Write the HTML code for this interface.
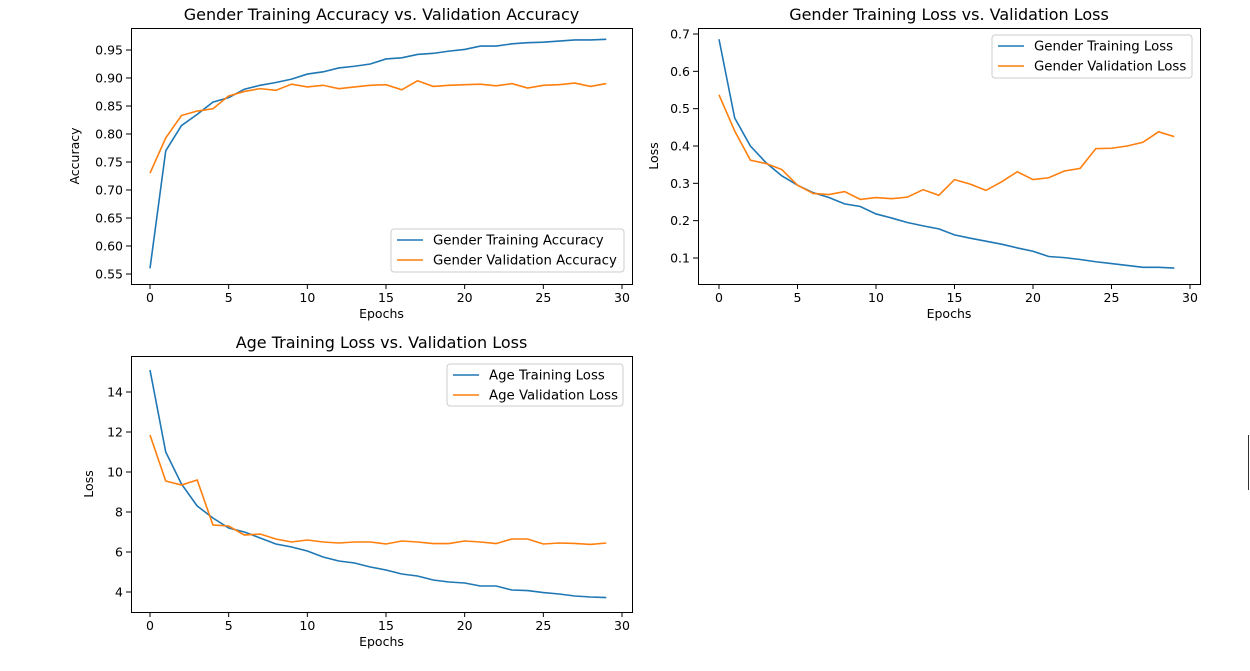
<!DOCTYPE html>
<html><head><meta charset="utf-8"><style>
body{margin:0;background:#fff;width:1250px;height:667px;overflow:hidden;font-family:"DejaVu Sans","Liberation Sans",sans-serif;}
svg text{font-family:"DejaVu Sans","Liberation Sans",sans-serif;fill:#000}
</style></head><body>
<svg id="fig" width="1250" height="667" xmlns="http://www.w3.org/2000/svg">
<rect width="1250" height="667" fill="#fff"/>
<line x1="1248.5" y1="435" x2="1248.5" y2="490" stroke="#333" stroke-width="1"/>
</svg>
<script>
const epochs = Array.from({length:30},(_,i)=>i);
const genderTrainAcc=[0.56,0.77,0.815,0.835,0.857,0.865,0.88,0.887,0.892,0.898,0.907,0.911,0.918,0.921,0.925,0.934,0.936,0.942,0.944,0.948,0.951,0.957,0.957,0.961,0.963,0.964,0.966,0.968,0.968,0.969];
const genderValAcc=[0.73,0.793,0.833,0.841,0.845,0.868,0.876,0.881,0.878,0.889,0.884,0.887,0.881,0.884,0.887,0.888,0.879,0.895,0.885,0.887,0.888,0.889,0.886,0.89,0.882,0.887,0.888,0.891,0.885,0.89];
const genderTrainLoss=[0.686,0.475,0.4,0.355,0.32,0.295,0.275,0.262,0.245,0.238,0.218,0.207,0.195,0.186,0.178,0.162,0.153,0.145,0.137,0.127,0.118,0.104,0.101,0.096,0.09,0.085,0.08,0.075,0.075,0.073];
const genderValLoss=[0.537,0.44,0.362,0.353,0.337,0.295,0.273,0.27,0.278,0.257,0.262,0.259,0.263,0.283,0.268,0.31,0.298,0.281,0.304,0.331,0.31,0.315,0.333,0.34,0.393,0.394,0.4,0.41,0.438,0.425];
const ageTrainLoss=[15.1,11.0,9.4,8.3,7.7,7.2,7.0,6.7,6.4,6.25,6.05,5.75,5.55,5.45,5.25,5.1,4.9,4.8,4.6,4.5,4.45,4.3,4.3,4.1,4.07,3.97,3.9,3.8,3.75,3.72];
const ageValLoss=[11.85,9.55,9.35,9.6,7.35,7.3,6.85,6.9,6.65,6.5,6.6,6.5,6.45,6.5,6.5,6.4,6.55,6.5,6.42,6.42,6.55,6.5,6.42,6.65,6.65,6.4,6.45,6.43,6.38,6.45];
const xTicks=[0,5,10,15,20,25,30];
const accTicks=[0.55,0.60,0.65,0.70,0.75,0.80,0.85,0.90,0.95];
const gLossTicks=[0.1,0.2,0.3,0.4,0.5,0.6,0.7];
const ageTicks=[4,6,8,10,12,14];

const NS="http://www.w3.org/2000/svg";
const fig=document.getElementById('fig');
function el(tag,attrs,parent){const e=document.createElementNS(NS,tag);for(const k in attrs)e.setAttribute(k,attrs[k]);(parent||fig).appendChild(e);return e;}

function plot(cfg){
  const g=el('g',{});
  
  
  const {L,R,T,B}=cfg;
  const sx=v=>cfg.x0+(v-0)*(cfg.x30-cfg.x0)/30;
  const sy=v=>cfg.yA+(v-cfg.vA)*(cfg.yB-cfg.yA)/(cfg.vB-cfg.vA);
  const t=el('text',{x:(L+R)/2,y:T-8,'text-anchor':'middle','font-size':16},g);t.textContent=cfg.title;
  
  xTicks.forEach(v=>{const x=sx(v);el('line',{x1:x,y1:B,x2:x,y2:B+5,stroke:'#000'},g);
    const tx=el('text',{x:x,y:B+18,'text-anchor':'middle','font-size':12.5},g);tx.textContent=v;
    });
  cfg.yTicks.forEach(v=>{const y=sy(v);el('line',{x1:L-5,y1:y,x2:L,y2:y,stroke:'#000'},g);
    const ty=el('text',{x:L-8,y:y+4.5,'text-anchor':'end','font-size':12.5},g);ty.textContent=cfg.fmt(v);
    });
  const xl=el('text',{x:(L+R)/2,y:B+34,'text-anchor':'middle','font-size':12.5},g);xl.textContent='Epochs';
  
  const yl=el('text',{x:0,y:0,'text-anchor':'middle','font-size':12.5,transform:`translate(${cfg.ylx},${(T+B)/2}) rotate(-90)`},g);yl.textContent=cfg.ylabel;
  
  const cols=['#1f77b4','#ff7f0e'];
  cfg.series.forEach((s,i)=>{const p=el('polyline',{points:s.map((v,j)=>sx(epochs[j])+','+sy(v)).join(' '),fill:'none',stroke:cols[i],'stroke-width':1.6},g);
    });
  el('rect',{x:L+0.5,y:T+0.5,width:R-L,height:B-T,fill:'none',stroke:'#000','stroke-width':1},g);
  const [lx,ly,lw,lh]=cfg.legend;
  const lg=el('g',{},g);
  el('rect',{x:lx,y:ly,width:lw,height:lh,rx:3,fill:'#fff','fill-opacity':0.8,stroke:'#ccc'},lg);
  cfg.labels.forEach((lab,i)=>{const yy=ly+11+i*20;
    el('line',{x1:lx+6,y1:yy,x2:lx+32,y2:yy,stroke:cols[i],'stroke-width':1.6},lg);
    const tt=el('text',{x:lx+42,y:yy+4.5,'font-size':13.3},lg);tt.textContent=lab;
    });
}
plot({name:'gender-accuracy-chart',L:131,R:632,T:28,B:284,x0:150,x30:622,yA:50,vA:0.95,yB:274,vB:0.55,yTicks:accTicks,fmt:v=>v.toFixed(2),
  title:'Gender Training Accuracy vs. Validation Accuracy',ylabel:'Accuracy',ylx:79,series:[genderTrainAcc,genderValAcc],
  legend:[391,229,233,43],labels:['Gender Training Accuracy','Gender Validation Accuracy']});
plot({name:'gender-loss-chart',L:698,R:1200,T:28,B:284,x0:719,x30:1190,yA:34,vA:0.7,yB:258,vB:0.1,yTicks:gLossTicks,fmt:v=>v.toFixed(1),
  title:'Gender Training Loss vs. Validation Loss',ylabel:'Loss',ylx:658,series:[genderTrainLoss,genderValLoss],
  legend:[992,35,200,43],labels:['Gender Training Loss','Gender Validation Loss']});
plot({name:'age-loss-chart',L:131,R:632,T:356,B:612,x0:150,x30:622,yA:392,vA:14,yB:592,vB:4,yTicks:ageTicks,fmt:v=>String(v),
  title:'Age Training Loss vs. Validation Loss',ylabel:'Loss',ylx:93,series:[ageTrainLoss,ageValLoss],
  legend:[447,364,176,42],labels:['Age Training Loss','Age Validation Loss']});
</script>
</body></html>
